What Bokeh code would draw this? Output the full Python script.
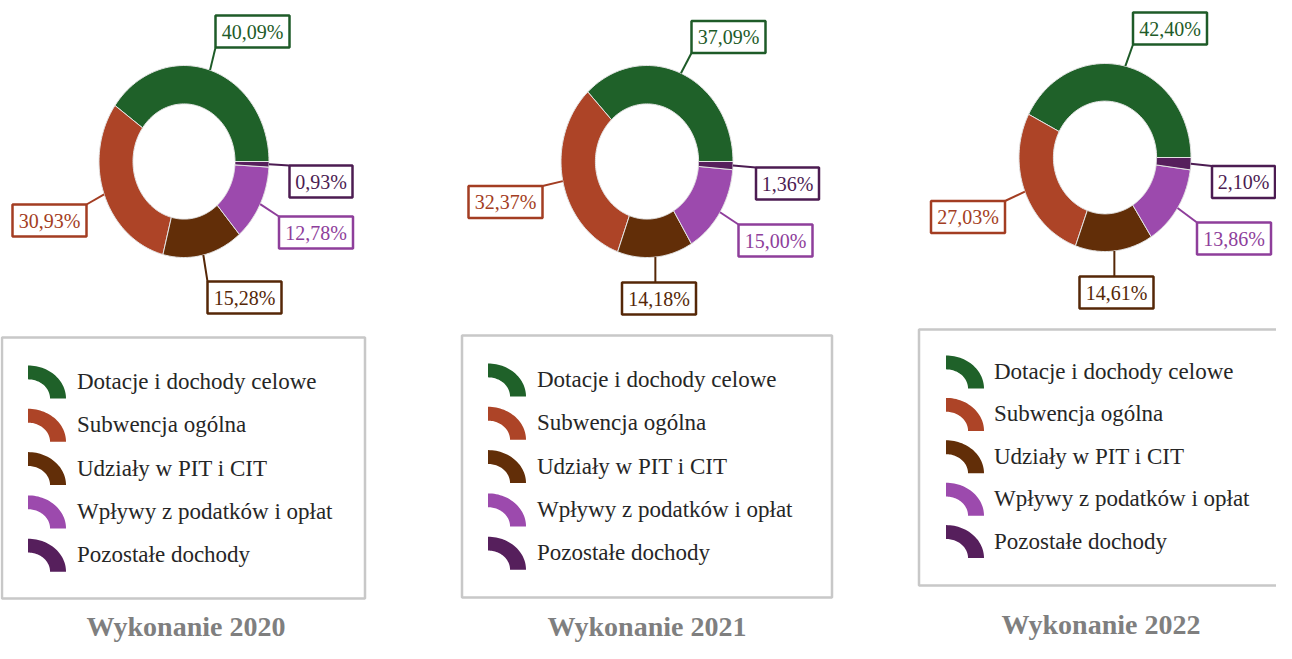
import numpy as np
from bokeh.plotting import figure
from bokeh.models import Range1d
from bokeh.embed import file_html
from bokeh.resources import INLINE
from bokeh.core.properties import value

# ---------------- data ----------------
categories = ["Dotacje i dochody celowe", "Subwencja ogólna", "Udziały w PIT i CIT",
              "Wpływy z podatków i opłat", "Pozostałe dochody"]
titles = ["Wykonanie 2020", "Wykonanie 2021", "Wykonanie 2022"]
share_2020 = [40.09, 30.93, 15.28, 12.78, 0.93]
share_2021 = [37.09, 32.37, 14.18, 15.00, 1.36]
share_2022 = [42.40, 27.03, 14.61, 13.86, 2.10]
series = [share_2020, share_2021, share_2022]

# ---------------- styles ----------------
slice_colors = ["#1f6129", "#ad4427", "#622e08", "#9c4aad", "#561f5c"]
label_colors = ["#1e5b28", "#a33d22", "#552707", "#8e3e9b", "#4c1c52"]
FONT = value("Liberation Serif")

# ---------------- layout (reference pixel space) ----------------
H = 659
layouts = [
    dict(cx=189, cy=161, rx=85, ry=96,
         boxes=[(257.5, 31), (54.5, 220), (249.5, 297), (321, 232), (326, 181)],
         legend=(7, 370, 337, 598), icon_x=33, icon_b=398, step=43.3, text_x=82,
         title=(191, 626)),
    dict(cx=652, cy=161, rx=86, ry=96,
         boxes=[(733.5, 36.5), (510.5, 201.5), (664, 298), (780.5, 240), (792.5, 183)],
         legend=(467, 837, 335, 597), icon_x=493, icon_b=396, step=43.3, text_x=542,
         title=(652, 626)),
    dict(cx=1110, cy=157, rx=86, ry=94,
         boxes=[(1175, 28), (973, 216.5), (1121.5, 292), (1239, 238), (1248.5, 181.5)],
         legend=(924, 1310, 329, 585), icon_x=951, icon_b=388, step=42.4, text_x=999,
         title=(1106, 624)),
]
HOLE = 0.6
BOX_H = 32
FIG_W, FIG_H = 1276, 643


def Y(v):
    return H - v


def ring(cx, cy, rx, ry, inner, a0, a1, n=60):
    t = np.linspace(a0, a1, n)
    xo = cx + rx * np.cos(t)
    yo = Y(cy) + ry * np.sin(t)
    xi = cx + rx * inner * np.cos(t[::-1])
    yi = Y(cy) + ry * inner * np.sin(t[::-1])
    return list(np.concatenate([xo, xi])), list(np.concatenate([yo, yi]))


p = figure(width=FIG_W, height=FIG_H,
           x_range=Range1d(5.5, 5.5 + FIG_W), y_range=Range1d(H - FIG_H, H),
           output_backend="svg", toolbar_location=None, min_border=0)
p.axis.visible = False
p.grid.visible = False
p.outline_line_color = None

for vals, lay, title in zip(series, layouts, titles):
    v = np.array(vals, dtype=float)
    frac = v / v.sum()
    ends = np.cumsum(frac) * 2 * np.pi
    starts = ends - frac * 2 * np.pi
    cx, cy, rx, ry = lay["cx"], lay["cy"], lay["rx"], lay["ry"]

    xs, ys = [], []
    for a0, a1 in zip(starts, ends):
        x, y = ring(cx, cy, rx, ry, HOLE, a0, a1)
        xs.append(x)
        ys.append(y)
    p.patches(xs, ys, fill_color=slice_colors, line_color="#e4e4e4", line_width=1)

    # leader lines + label boxes
    mids = (starts + ends) / 2
    for i, (m, (bx, by)) in enumerate(zip(mids, lay["boxes"])):
        txt = f"{vals[i]:.2f}".replace(".", ",") + "%"
        bw = 74 if len(txt) >= 6 else 63
        sx = cx + rx * np.cos(m)
        sy = cy - ry * np.sin(m)
        ex = min(max(sx, bx - bw / 2), bx + bw / 2)
        ey = min(max(sy, by - BOX_H / 2), by + BOX_H / 2)
        p.line([sx, ex], [Y(sy), Y(ey)], line_color=label_colors[i], line_width=2)
        p.rect(x=bx, y=Y(by), width=bw, height=BOX_H, fill_color="white",
               line_color=label_colors[i], line_width=2.5)
        p.text(x=[bx], y=[Y(by)], text=[txt], text_color=label_colors[i],
               text_font=FONT, text_font_size="20px", text_align="center",
               text_baseline="middle")

    # legend box
    l, r, t, b = lay["legend"]
    p.quad(left=l, right=r, top=Y(t), bottom=Y(b), fill_color=None,
           line_color="#c8c8c8", line_width=2.5)
    for i, cat in enumerate(categories):
        ib = lay["icon_b"] + i * lay["step"]
        x, y = ring(0, 0, 38, 33, 0.58, 0, np.pi / 2, n=30)
        x = [lay["icon_x"] + xx for xx in x]
        y = [Y(ib) + yy - Y(0) for yy in y]
        p.patch(x, y, fill_color=slice_colors[i], line_color=None)
        p.text(x=[lay["text_x"]], y=[Y(ib - 17)], text=[cat], text_color="#262626",
               text_font=FONT, text_font_size="23px", text_align="left",
               text_baseline="middle")

    tx, ty = lay["title"]
    p.text(x=[tx], y=[Y(ty)], text=[title], text_color="#7f7f7f", text_font=FONT,
           text_font_size="28px", text_font_style="bold", text_align="center",
           text_baseline="middle")

open("out.html", "w").write(file_html(p, INLINE))
